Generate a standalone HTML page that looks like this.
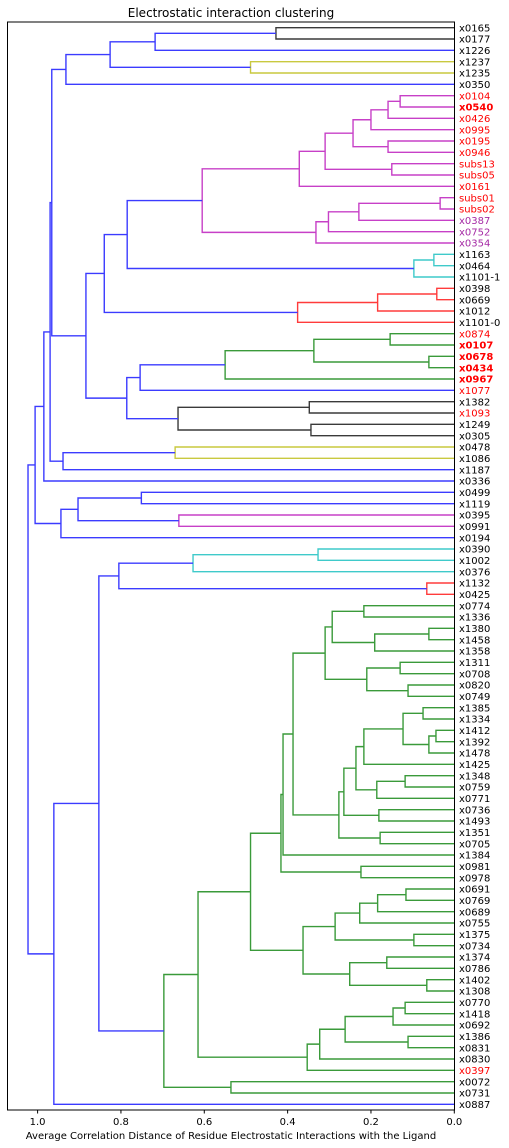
<!DOCTYPE html>
<html><head><meta charset="utf-8">
<style>
html,body{margin:0;padding:0;background:#fff;}
svg{display:block;font-family:"DejaVu Sans","Liberation Sans",sans-serif;}
</style></head>
<body>
<svg id="chart" width="509" height="1148" viewBox="0 0 509 1148" xmlns="http://www.w3.org/2000/svg">
<text x="231" y="17" font-size="12" text-anchor="middle" fill="#000">Electrostatic interaction clustering</text>
<g id="links"></g>
<g id="leaves"></g>
<g id="xaxis"></g>
<rect x="7.5" y="22" width="447" height="1088" fill="none" stroke="#000" stroke-width="1"/>
<text x="231" y="1139" font-size="10" text-anchor="middle" fill="#000">Average Correlation Distance of Residue Electrostatic Interactions with the Ligand</text>
</svg>
<script>
const leafLabels = ["x0165","x0177","x1226","x1237","x1235","x0350","x0104","x0540","x0426","x0995","x0195","x0946","subs13","subs05","x0161","subs01","subs02","x0387","x0752","x0354","x1163","x0464","x1101-1","x0398","x0669","x1012","x1101-0","x0874","x0107","x0678","x0434","x0967","x1077","x1382","x1093","x1249","x0305","x0478","x1086","x1187","x0336","x0499","x1119","x0395","x0991","x0194","x0390","x1002","x0376","x1132","x0425","x0774","x1336","x1380","x1458","x1358","x1311","x0708","x0820","x0749","x1385","x1334","x1412","x1392","x1478","x1425","x1348","x0759","x0771","x0736","x1493","x1351","x0705","x1384","x0981","x0978","x0691","x0769","x0689","x0755","x1375","x0734","x1374","x0786","x1402","x1308","x0770","x1418","x0692","x1386","x0831","x0830","x0397","x0072","x0731","x0887"];
const redLabels = ["x0104","x0540","x0426","x0995","x0195","x0946","subs13","subs05","x0161","subs01","subs02","x0874","x0107","x0678","x0434","x0967","x1077","x1093","x0397"];
const boldLabels = ["x0540","x0107","x0678","x0434","x0967"];
const purpleLabels = ["x0387","x0752","x0354"];
const xTicks = [1.0,0.8,0.6,0.4,0.2,0.0];
const xTickLabels = ["1.0","0.8","0.6","0.4","0.2","0.0"];
// tree nodes: [height, color, left, right]; leaves are indices into leafLabels
const topCluster = [0.932,'b',[0.826,'b',[0.718,'b',[0.428,'k',0,1],2],[0.489,'y',3,4]],5];
const magenta = [0.605,'m',
  [0.372,'m',[0.310,'m',[0.243,'m',[0.200,'m',[0.159,'m',[0.130,'m',6,7],8],9],[0.159,'m',10,11]],[0.150,'m',12,13]],14],
  [0.332,'m',[0.302,'m',[0.229,'m',[0.034,'m',15,16],17],18],19]];
const cyanA = [0.097,'c',[0.049,'c',20,21],22];
const redA = [0.376,'r',[0.184,'r',[0.042,'r',23,24],25],26];
const greenA = [0.550,'g',[0.337,'g',[0.154,'g',27,28],[0.061,'g',29,30]],31];
const blackA = [0.663,'k',[0.348,'k',33,34],[0.344,'k',35,36]];
const midCluster = [0.884,'b',[0.840,'b',[0.785,'b',magenta,cyanA],redA],[0.786,'b',[0.754,'b',greenA,32],blackA]];
const upper = [1.006,'b',
  [0.985,'b',[0.970,'b',[0.966,'b',topCluster,midCluster],[0.939,'b',[0.670,'y',37,38],39]],40],
  [0.944,'b',[0.903,'b',[0.751,'b',41,42],[0.661,'m',43,44]],45]];
const cyanB = [0.805,'b',[0.627,'c',[0.327,'c',46,47],48],[0.066,'r',49,50]];
const gA = [0.310,'g',[0.293,'g',[0.217,'g',51,52],[0.191,'g',[0.061,'g',53,54],55]],[0.210,'g',[0.130,'g',56,57],[0.111,'g',58,59]]];
const gC = [0.277,'g',[0.265,'g',[0.236,'g',[0.217,'g',[0.123,'g',[0.075,'g',60,61],[0.061,'g',[0.044,'g',62,63],64]],65],[0.186,'g',[0.118,'g',66,67],68]],[0.181,'g',69,70]],[0.178,'g',71,72]];
const gD = [0.416,'g',[0.411,'g',[0.387,'g',gA,gC],73],[0.224,'g',74,75]];
const gE = [0.363,'g',[0.286,'g',[0.227,'g',[0.184,'g',[0.116,'g',76,77],78],79],[0.097,'g',80,81]],[0.251,'g',[0.162,'g',82,83],[0.066,'g',84,85]]];
const gG = [0.353,'g',[0.323,'g',[0.262,'g',[0.147,'g',[0.118,'g',86,87],88],[0.111,'g',89,90]],91],92];
const bigGreen = [0.697,'g',[0.615,'g',[0.489,'g',gD,gE],gG],[0.536,'g',93,94]];
const lower = [0.961,'b',[0.853,'b',cyanB,bigGreen],95];
const root = [1.023,'b',upper,lower];

const colorMap = {b:'#3b3bff',g:'#3a9a3a',r:'#ff3b3b',c:'#3fcaca',m:'#c740c7',y:'#c9c93f',k:'#3a3a3a'};
const NS = 'http://www.w3.org/2000/svg';
const X0 = 454.3, XS = 416.7, Y0 = 22, YS = 1088/960;
function xPix(h){ return X0 - h*XS; }
function yPix(i){ return Y0 + (5 + 10*i)*YS; }
const linksG = document.getElementById('links');
let linkCount = 0;
function draw(node){
  if (typeof node === 'number') return {y: yPix(node), h: 0};
  const a = draw(node[2]), b = draw(node[3]);
  const x = xPix(node[0]);
  const p = document.createElementNS(NS,'path');
  p.setAttribute('d', `M${xPix(a.h)},${a.y}H${x}V${b.y}H${xPix(b.h)}`);
  p.setAttribute('fill','none');
  p.setAttribute('stroke', colorMap[node[1]]);
  p.setAttribute('stroke-width','1.4');
  
  
  linksG.appendChild(p);
  return {y: (a.y + b.y)/2, h: node[0]};
}
draw(root);
const leavesG = document.getElementById('leaves');
leafLabels.forEach((lab, i) => {
  const t = document.createElementNS(NS,'text');
  t.setAttribute('x', 459);
  t.setAttribute('y', yPix(i) + 3.6);
  t.setAttribute('font-size', '10');
  let col = '#000';
  if (redLabels.includes(lab)) col = '#ff0000';
  if (purpleLabels.includes(lab)) col = '#a52aa5';
  t.setAttribute('fill', col);
  if (boldLabels.includes(lab)) t.setAttribute('font-weight', 'bold');
  t.textContent = lab;
  
  
  leavesG.appendChild(t);
});
const axG = document.getElementById('xaxis');
xTicks.forEach((v, i) => {
  const x = xPix(v);
  const l = document.createElementNS(NS,'line');
  l.setAttribute('x1', x); l.setAttribute('x2', x);
  l.setAttribute('y1', 1110); l.setAttribute('y2', 1113.5);
  l.setAttribute('stroke', '#000');
  
  
  axG.appendChild(l);
  const t = document.createElementNS(NS,'text');
  t.setAttribute('x', x); t.setAttribute('y', 1125);
  t.setAttribute('font-size', '10');
  t.setAttribute('text-anchor', 'middle');
  t.textContent = xTickLabels[i];
  
  
  axG.appendChild(t);
});
</script>
</body></html>
